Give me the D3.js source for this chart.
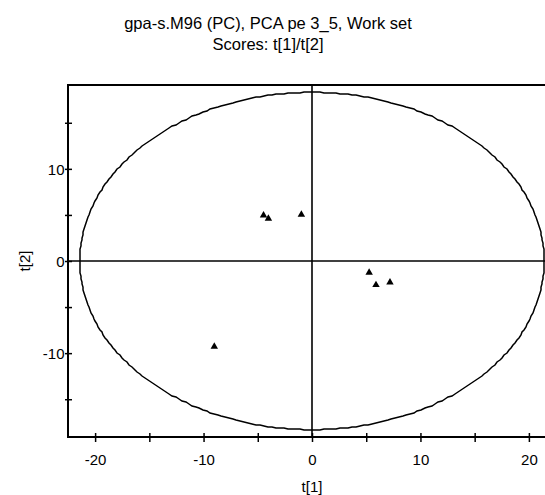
<!DOCTYPE html>
<html>
<head>
<meta charset="utf-8">
<script src="https://cdn.jsdelivr.net/npm/d3@7"></script>
<style>
  html, body { margin: 0; padding: 0; background: #fff; }
  svg { display: block; font-family: "Liberation Sans", Arial, sans-serif; }
</style>
</head>
<body>
<svg id="chart" width="545" height="495"></svg>
<script>
// PCA score values: first and second component for each observation
const t1 = [-4.47, -4.02, -0.98, 5.27, 5.90, 7.19, -9.01];
const t2 = [4.96, 4.61, 5.03, -1.25, -2.60, -2.32, -9.29];

// Axis tick values (major every 10 with labels, minor at the fives)
const xTicks = [-20, -15, -10, -5, 0, 5, 10, 15, 20];
const yTicks = [-15, -10, -5, 0, 5, 10, 15];
const xLabels = [-20, -10, 0, 10, 20];
const yLabels = [-10, 0, 10];

// Hotelling T2 (95%) ellipse semi-axes in score units
const ellipseA = 21.4;
const ellipseB = 18.3;

const titleLines = ["gpa-s.M96 (PC), PCA pe 3_5, Work set", "Scores: t[1]/t[2]"];

const svg = d3.select("#chart");
const plotL = 68, plotR = 556, plotT = 85, plotB = 437;

const x = d3.scaleLinear().domain([-22.5, 22.5]).range([plotL, plotR]);
const y = d3.scaleLinear().domain([-19.1, 19.1]).range([plotB, plotT]);

// Title
svg.selectAll("text.title").data(titleLines).join("text")
  .attr("class", "title")
  .attr("x", 268)
  .attr("y", (d, i) => 29 + i * 21)
  .attr("text-anchor", "middle")
  .attr("font-size", 16.5)
  .attr("fill", "#000")
  .text(d => d);

// Ellipse, drawn on the pixel grid
const ellPts = d3.range(0, 361).map(i => {
  const a = i / 360 * 2 * Math.PI;
  return [Math.round(x(ellipseA * Math.cos(a))), Math.round(y(ellipseB * Math.sin(a)))];
});
svg.append("path")
  .attr("d", d3.line()(ellPts))
  .attr("fill", "none")
  .attr("stroke", "#000")
  .attr("stroke-width", 1.5);

// Zero lines
svg.append("line")
  .attr("x1", plotL).attr("x2", plotR)
  .attr("y1", y(0)).attr("y2", y(0))
  .attr("stroke", "#000").attr("stroke-width", 1.6);
svg.append("line")
  .attr("x1", x(0)).attr("x2", x(0))
  .attr("y1", plotT).attr("y2", plotB)
  .attr("stroke", "#000").attr("stroke-width", 1.6);

// Frame
svg.append("rect")
  .attr("x", plotL).attr("y", plotT)
  .attr("width", plotR - plotL).attr("height", plotB - plotT)
  .attr("fill", "none")
  .attr("stroke", "#000")
  .attr("stroke-width", 2);

const fmt = d => String(d);

// Bottom axis
const xAxis = d3.axisBottom(x)
  .tickValues(xTicks)
  .tickSize(0)
  .tickFormat(d => xLabels.includes(d) ? fmt(d) : "");
const gx = svg.append("g").attr("transform", `translate(0,${plotB})`).call(xAxis);
gx.select(".domain").remove();
gx.selectAll(".tick line").attr("y1", -4).attr("y2", 5).attr("stroke", "#000").attr("stroke-width", 1.5);
gx.selectAll(".tick text")
  .attr("y", 28).attr("dy", 0)
  .attr("font-size", 15).attr("fill", "#000")
  .attr("font-family", "'Liberation Sans', Arial, sans-serif");

// Left axis
const yAxis = d3.axisLeft(y)
  .tickValues(yTicks)
  .tickSize(0)
  .tickFormat(d => yLabels.includes(d) ? fmt(d) : "");
const gy = svg.append("g").attr("transform", `translate(${plotL},0)`).call(yAxis);
gy.select(".domain").remove();
gy.selectAll(".tick line").attr("x1", -3).attr("x2", 4).attr("stroke", "#000").attr("stroke-width", 1.5);
gy.selectAll(".tick text")
  .attr("x", -3.5).attr("dy", "0.36em")
  .attr("font-size", 15).attr("fill", "#000")
  .attr("font-family", "'Liberation Sans', Arial, sans-serif");

// Axis titles
svg.append("text")
  .attr("x", x(0)).attr("y", 492)
  .attr("text-anchor", "middle")
  .attr("font-size", 15).attr("fill", "#000")
  .text("t[1]");
svg.append("text")
  .attr("transform", `translate(30,${y(0)}) rotate(-90)`)
  .attr("text-anchor", "middle")
  .attr("font-size", 15).attr("fill", "#000")
  .text("t[2]");

// Score points
const tri = d3.symbol(d3.symbolTriangle, 24);
svg.selectAll("path.pt").data(t1.map((v, i) => [v, t2[i]])).join("path")
  .attr("class", "pt")
  .attr("d", tri)
  .attr("transform", d => `translate(${x(d[0])},${y(d[1])})`)
  .attr("fill", "#000");
</script>
</body>
</html>
